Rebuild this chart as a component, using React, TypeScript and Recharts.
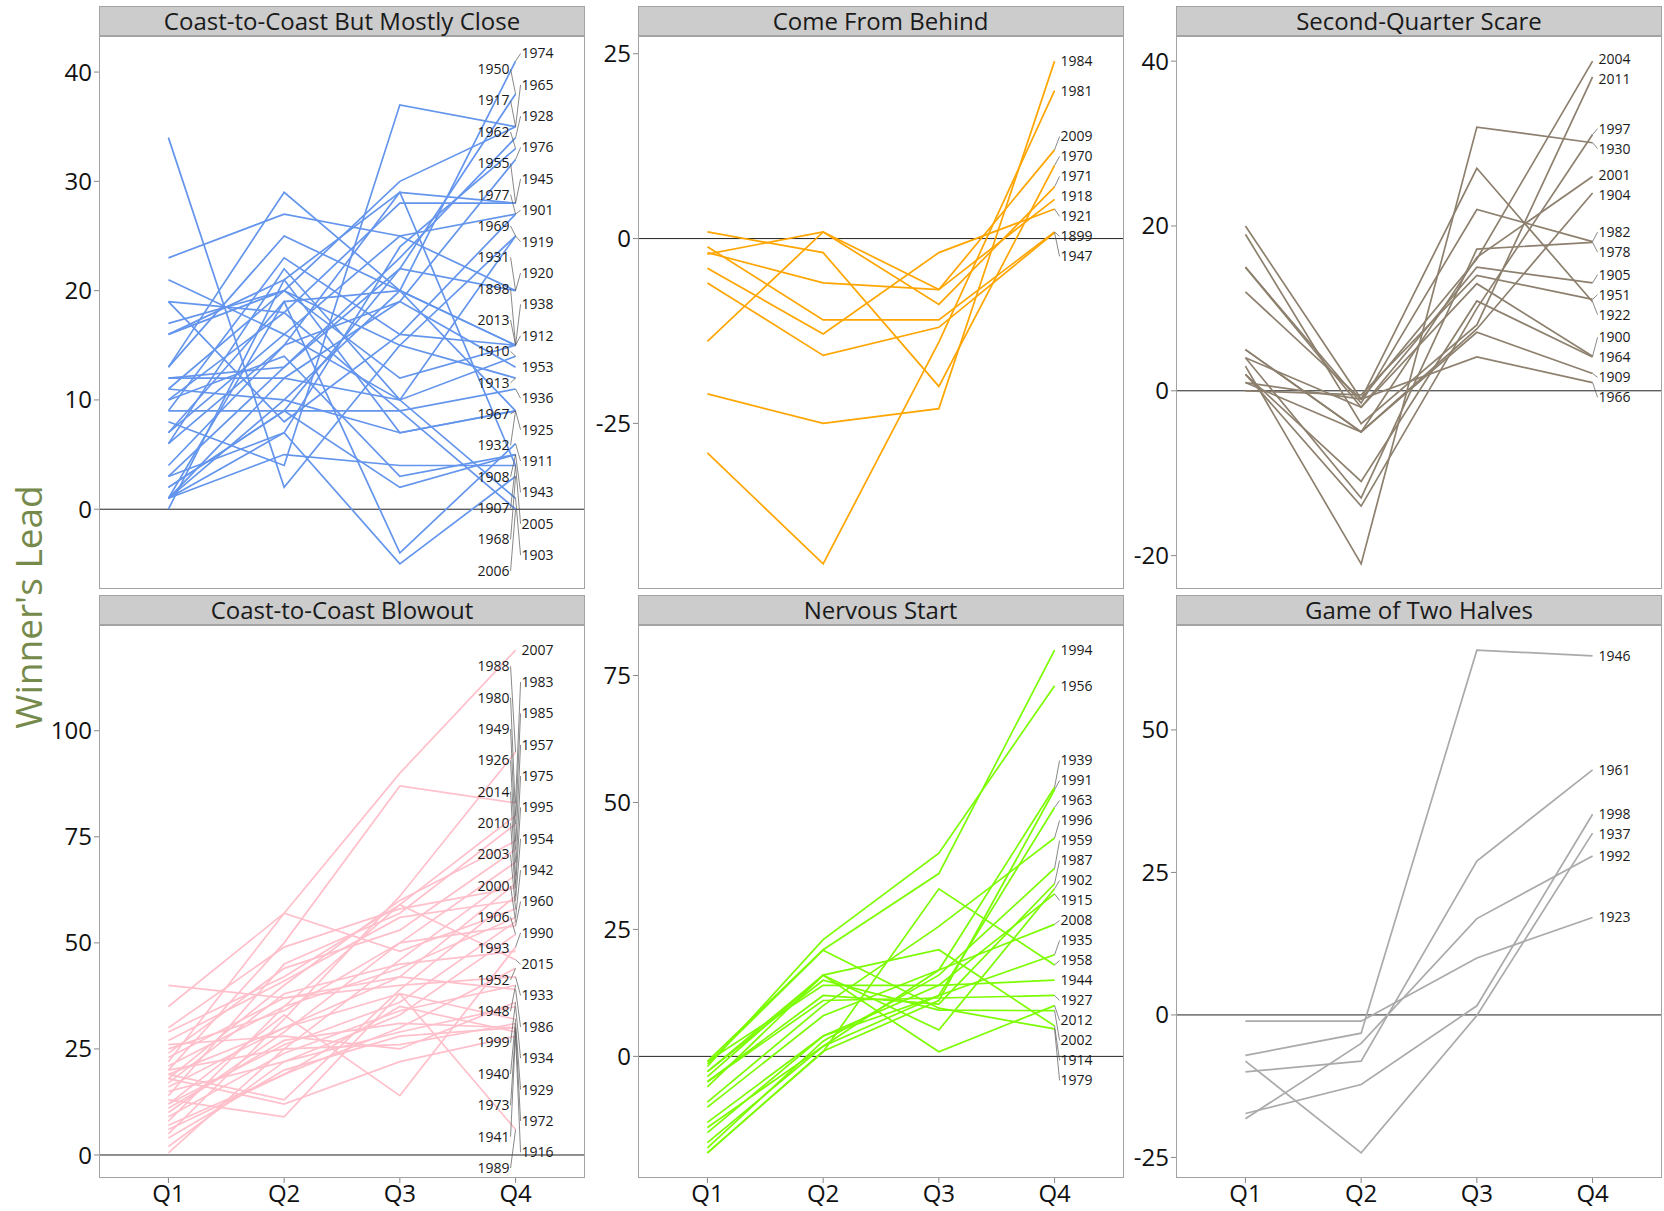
import React from 'react';
import { LineChart, Line, XAxis, YAxis, ReferenceLine } from 'recharts';

const FONT = '"Open Sans", "Noto Sans", sans-serif';

const quarters = ['Q1', 'Q2', 'Q3', 'Q4'];

// Coast-to-Coast But Mostly Close — winner's lead after each quarter
const closeYears = ['1974', '1950', '1965', '1917', '1928', '1962', '1976', '1955', '1945', '1977', '1901', '1969', '1919', '1931', '1920', '1898', '1938', '2013', '1912', '1910', '1953', '1913', '1936', '1967', '1925', '1932', '1911', '1908', '1943', '1907', '1968', '2005', '1903', '2006'];
const closeLeads = [
  [1, 10, 20, 41], [2, 9, 22, 38], [8, 4, 37, 35], [16, 20, 30, 35], [12, 13, 23, 34],
  [1, 7, 24, 33], [4, 15, 19, 32], [0, 21, 29, 28], [10, 18, 28, 28], [7, 16, 25, 27],
  [19, 8, 16, 27], [11, 20, 15, 25], [6, 22, 10, 25], [23, 27, 25, 20], [3, 13, 22, 20],
  [13, 29, 20, 15], [17, 20, 12, 15], [1, 19, 20, 15], [9, 23, 16, 15], [21, 16, 10, 14],
  [12, 12, 19, 13], [34, 2, 15, 12], [9, 9, 9, 11], [16, 21, 7, 9], [11, 10, 7, 9],
  [13, 25, 20, 9], [7, 19, -4, 6], [10, 14, 3, 5], [2, 9, 2, 5], [1, 5, 4, 4],
  [3, 7, -5, 3], [6, 15, 29, 4], [1, 12, 10, 1], [19, 18, 9, 0],
];
const closeTicks = [0, 10, 20, 30, 40];

// Come From Behind
const behindYears = ['1984', '1981', '2009', '1970', '1971', '1918', '1921', '1899', '1947'];
const behindLeads = [
  [-21, -25, -23, 24], [-29, -44, -14, 20], [-1.9, -6, -6.9, 12], [0.9, -1.9, -20, 9.9],
  [-2.1, 0.9, -8.9, 7], [-13.9, 0.9, -6.9, 5.3], [-4, -12.9, -1.9, 4], [-1.1, -11, -11, 0.9],
  [-6, -15.8, -12, 0.8],
];
const behindTicks = [-25, 0, 25];

// Second-Quarter Scare
const scareYears = ['2004', '2011', '1997', '1930', '2001', '1904', '1982', '1978', '1905', '1951', '1922', '1900', '1964', '1909', '1966'];
const scareLeads = [
  [20, -1, 16, 40], [19, -4, 8, 38.1], [2, -14, 10, 31.1], [3, -21, 32, 30.1], [5, -5, 16.2, 26],
  [1, -5, 7.5, 24], [15, -1.5, 22, 18.1], [4, -13, 17.2, 18], [4, -2, 15, 13.1], [0, -0.5, 14, 11.1],
  [12, -1, 27, 10.8], [15, -2, 13, 4.2], [2, -11, 10.9, 4.1], [5, -5, 7.1, 2.1], [1, -1, 4.1, 1],
];
const scareTicks = [-20, 0, 20, 40];

// Coast-to-Coast Blowout
const blowoutYears = ['2007', '1988', '1983', '1980', '1985', '1949', '1957', '1926', '1975', '2014', '1995', '2010', '1954', '2003', '1942', '2000', '1960', '1906', '1990', '1993', '2015', '1952', '1933', '1948', '1986', '1999', '1934', '1940', '1929', '1973', '1972', '1941', '1916', '1989'];
const blowoutLeads = [
  [22, 57, 90, 119], [5, 32, 61, 95], [20, 50, 87, 83], [8, 35, 59, 80], [14, 45, 57, 78],
  [18, 40, 60, 74], [24, 44, 53, 72], [10, 29, 50, 69], [0.5, 25, 46, 66], [16, 30, 42, 64],
  [30, 49, 58, 63], [19, 13, 39, 61], [27, 41, 56, 60], [35, 57, 48, 58], [21, 35, 44, 56],
  [12, 26, 36, 55], [25, 34, 50, 54], [2, 22, 33, 52], [12, 33, 14, 49], [17, 38, 45, 48],
  [29, 42, 59, 46], [7, 19, 30, 44], [23, 37, 40, 42], [9, 24, 34, 40], [40, 37, 42, 39],
  [26, 28, 25, 36], [15, 22, 29, 35], [13, 9, 38, 32], [20, 25, 26, 31], [4, 20, 28, 30],
  [11, 27, 31, 30], [6, 19, 35, 29], [18, 12, 22, 28], [19, 30, 38, 6],
];
const blowoutTicks = [0, 25, 50, 75, 100];

// Nervous Start
const nervousYears = ['1994', '1956', '1939', '1991', '1963', '1996', '1959', '1987', '1902', '1915', '2008', '1935', '1958', '1944', '1927', '2012', '2002', '1914', '1979'];
const nervousLeads = [
  [-1, 21, 36, 80], [-2, 23, 40, 73], [-17, 2, 17, 53], [-19, 1, 11, 52.5], [-15, 4, 12, 49],
  [-9, 10, 25.6, 43], [-18, 3, 16, 37], [-5, 12, 10.3, 34], [-3, 16, 5.2, 33], [-13, 4, 14, 32],
  [-10, 8, 17, 26], [-14, 2, 12, 20], [-19, 0.9, 33, 18], [-1, 14, 14, 15], [-5, 11, 11.5, 12],
  [-6, 16, 0.9, 10], [-3, 15, 9.1, 9], [-4, 16, 21, 6], [-1.5, 20.9, 9.5, 5.4],
];
const nervousTicks = [0, 25, 50, 75];

// Game of Two Halves
const halvesYears = ['1946', '1961', '1998', '1937', '1992', '1923'];
const halvesLeads = [
  [-7.1, -3.2, 64, 63], [-10, -8.1, 27, 43], [-17.3, -12.2, 1.6, 35.2],
  [-8.1, -24.2, -0.1, 31.9], [-18.2, -5, 16.9, 27.9], [-1.1, -1.1, 10, 17.1],
];
const halvesTicks = [-25, 0, 25, 50];

type PanelSpec = { title: string; years: string[]; leads: number[][]; color: string; ticks: number[] };

const panels: PanelSpec[] = [
  { title: 'Coast-to-Coast But Mostly Close', years: closeYears, leads: closeLeads, color: '#6495ed', ticks: closeTicks },
  { title: 'Come From Behind', years: behindYears, leads: behindLeads, color: '#ffa500', ticks: behindTicks },
  { title: 'Second-Quarter Scare', years: scareYears, leads: scareLeads, color: '#8d806e', ticks: scareTicks },
  { title: 'Coast-to-Coast Blowout', years: blowoutYears, leads: blowoutLeads, color: '#ffc0cb', ticks: blowoutTicks },
  { title: 'Nervous Start', years: nervousYears, leads: nervousLeads, color: '#7cfc00', ticks: nervousTicks },
  { title: 'Game of Two Halves', years: halvesYears, leads: halvesLeads, color: '#aaaaaa', ticks: halvesTicks },
];

const COL_X = [99, 637.5, 1176];
const ROW_Y = [36, 625];
const STRIP_H = 30;
const PLOT_W = 486;
const PLOT_H = 553;
const AXIS_W = 100;
const XAXIS_H = 40;
const Q_PAD = (PLOT_W * 0.6) / 4.2;
const BORDER = '#a3a3a3';
const LABEL_SIZE = 14;

type LabelPlace = { dy: number; rank: number };

// Spread the end-of-line year labels vertically so they don't overlap.
function layoutLabels(values: number[], domain: [number, number], plotH: number, dense: boolean): LabelPlace[] {
  const ppu = plotH / (domain[1] - domain[0]);
  const pts = values.map((v, i) => ({ i, y: (domain[1] - v) * ppu })).sort((a, b) => a.y - b.y);
  const n = pts.length;
  const gap = dense ? (plotH - 20) / n : 20;
  const minTop = 10;
  const maxBottom = plotH - 10;
  type Cl = { first: number; n: number; sum: number; top: number };
  const place = (c: Cl) => {
    let t = c.sum / c.n - ((c.n - 1) * gap) / 2;
    t = Math.max(minTop, Math.min(t, maxBottom - (c.n - 1) * gap));
    c.top = t;
  };
  const cls: Cl[] = [];
  pts.forEach((p, k) => {
    const c: Cl = { first: k, n: 1, sum: p.y, top: 0 };
    place(c);
    cls.push(c);
    while (cls.length > 1) {
      const b = cls[cls.length - 1];
      const a = cls[cls.length - 2];
      if (a.top + a.n * gap > b.top + 0.01) {
        a.n += b.n;
        a.sum += b.sum;
        place(a);
        cls.pop();
      } else break;
    }
  });
  const out: LabelPlace[] = new Array(n);
  cls.forEach((c) => {
    for (let j = 0; j < c.n; j++) {
      const k = c.first + j;
      const p = pts[k];
      out[p.i] = { dy: c.top + j * gap - p.y, rank: k };
    }
  });
  return out;
}

// Year label at the end (Q4) of each line, with a thin leader when it is pushed away.
function renderLabel(p: any, year: string, pl: LabelPlace, dense: boolean) {
  const { cx, cy, index } = p;
  if (index !== 3 || typeof cx !== 'number' || typeof cy !== 'number') {
    return <g key={`n-${year}-${index}`} />;
  }
  const onLeft = dense && pl.rank % 2 === 1;
  const ly = cy + pl.dy;
  const tx = onLeft ? cx - 6 : cx + 6;
  const lead = Math.abs(pl.dy) > 3;
  return (
    <g key={`l-${year}`}>
      {lead && (
        <line x1={cx} y1={cy} x2={onLeft ? tx + 1 : tx - 1} y2={ly} stroke="#555" strokeWidth={0.7} />
      )}
      <text
        x={tx}
        y={ly}
        dy="0.35em"
        textAnchor={onLeft ? 'end' : 'start'}
        fontSize={LABEL_SIZE}
        fill="#1a1a1a"
        fontFamily={FONT}
      >
        {year}
      </text>
    </g>
  );
}

function Panel({ spec, left, top, showX }: { spec: PanelSpec; left: number; top: number; showX: boolean }) {
  const data = quarters.map((q, qi) => {
    const row: Record<string, string | number> = { q };
    spec.years.forEach((y, i) => {
      row['y' + y] = spec.leads[i][qi];
    });
    return row;
  });
  const all = spec.leads.flat();
  const lo = Math.min(...all);
  const hi = Math.max(...all);
  const span = hi - lo;
  const domain: [number, number] = [lo - 0.05 * span, hi + 0.05 * span];
  const dense = spec.years.length > 20;
  const layout = layoutLabels(spec.leads.map((r) => r[3]), domain, PLOT_H, dense);
  const height = PLOT_H + (showX ? XAXIS_H : 0);

  return (
    <>
      <div
        style={{
          position: 'absolute', left, top: top - STRIP_H, width: PLOT_W, height: STRIP_H,
          background: '#cccccc', border: `1px solid ${BORDER}`, boxSizing: 'border-box',
          textAlign: 'center', fontSize: 24, lineHeight: '28px', color: '#1a1a1a', fontFamily: FONT,
          whiteSpace: 'nowrap',
        }}
      >
        {spec.title}
      </div>
      <div style={{ position: 'absolute', left: left - AXIS_W, top }}>
        <LineChart width={PLOT_W + AXIS_W} height={height} data={data} margin={{ top: 0, right: 0, bottom: 0, left: 0 }}>
          <XAxis
            dataKey="q"
            hide={!showX}
            height={XAXIS_H}
            padding={{ left: Q_PAD, right: Q_PAD }}
            axisLine={false}
            tickSize={5}
            tickLine={{ stroke: '#888' }}
            interval={0}
            tick={{ fontSize: 24, fill: '#111', fontFamily: FONT }}
          />
          <YAxis
            type="number"
            domain={domain}
            ticks={spec.ticks}
            width={AXIS_W}
            interval={0}
            axisLine={false}
            tickSize={5}
            tickLine={{ stroke: '#888' }}
            tick={{ fontSize: 24, fill: '#111', fontFamily: FONT }}
          />
          <ReferenceLine y={0} stroke="#222" strokeWidth={1} />
          {spec.years.map((y) => (
            <Line
              key={'s' + y}
              type="linear"
              dataKey={'y' + y}
              stroke={spec.color}
              strokeWidth={1.7}
              dot={false}
              activeDot={false}
              isAnimationActive={false}
            />
          ))}
          {spec.years.map((y, i) => (
            <Line
              key={'t' + y}
              type="linear"
              dataKey={'y' + y}
              stroke="none"
              strokeWidth={0}
              dot={(p: any) => renderLabel(p, y, layout[i], dense)}
              activeDot={false}
              legendType="none"
              isAnimationActive={false}
            />
          ))}
        </LineChart>
      </div>
      <div
        style={{
          position: 'absolute', left, top, width: PLOT_W, height: PLOT_H,
          border: `1px solid ${BORDER}`, boxSizing: 'border-box', pointerEvents: 'none',
        }}
      />
    </>
  );
}

export default function App() {
  return (
    <div
      style={{
        position: 'absolute', left: 0, top: 0, width: 1664, height: 1211,
        background: '#ffffff', overflow: 'hidden', fontFamily: FONT,
      }}
    >
      <svg width={60} height={1211} style={{ position: 'absolute', left: 0, top: 0 }}>
        <text
          x={-607}
          y={42}
          transform="rotate(-90)"
          textAnchor="middle"
          fontSize={37}
          fill="#768a4c"
          fontFamily={FONT}
        >
          Winner's Lead
        </text>
      </svg>
      {panels.map((spec, k) => (
        <Panel
          key={spec.title}
          spec={spec}
          left={COL_X[k % 3]}
          top={ROW_Y[Math.floor(k / 3)]}
          showX={k >= 3}
        />
      ))}
    </div>
  );
}
